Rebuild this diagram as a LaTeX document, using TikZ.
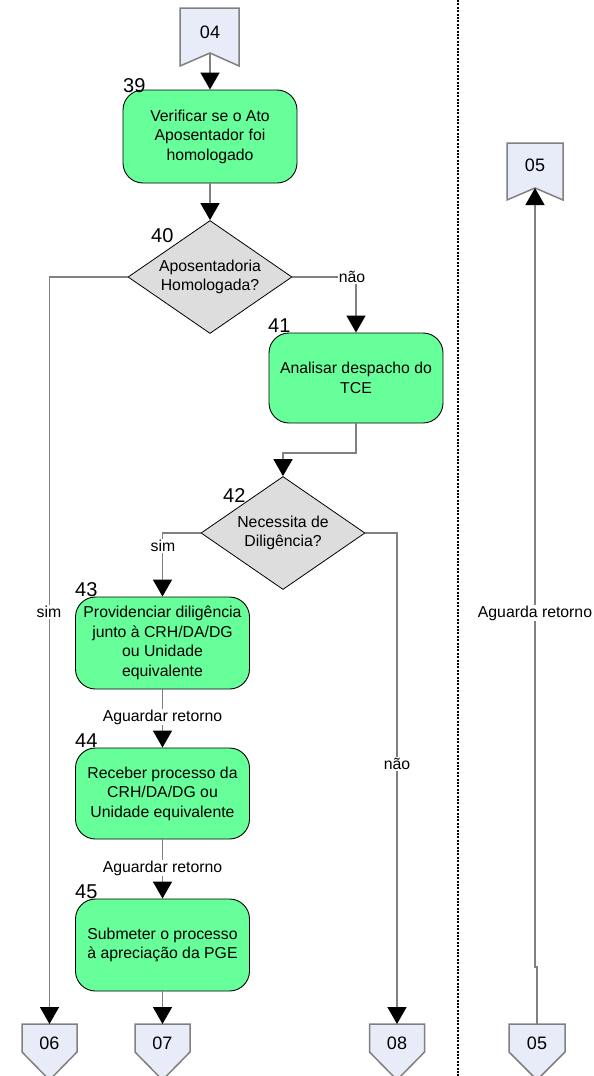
\documentclass[tikz,border=0pt]{standalone}
\usepackage{fontspec}
\setmainfont{Liberation Sans}
\usetikzlibrary{arrows.meta,shapes.geometric}
\definecolor{boxgreen}{RGB}{102,255,153}
\definecolor{decgray}{RGB}{221,221,221}
\definecolor{pagefill}{RGB}{231,236,248}
\definecolor{flowgray}{RGB}{128,128,128}

\begin{document}
\begin{tikzpicture}[x=1pt,y=-1pt,
  txt/.style={font=\fontsize{15.8}{19.5}\selectfont},
  task/.style={txt, draw=black, line width=0.9pt, fill=boxgreen,
    rounded corners=20pt, minimum width=174pt, align=center, inner sep=0pt},
  decision/.style={txt, diamond, shape aspect=1.45, draw=black, line width=0.8pt, fill=decgray,
    minimum width=164pt, minimum height=113pt, inner sep=0pt, align=center},
  stepnum/.style={font=\fontsize{20}{24}\selectfont, anchor=base west, inner sep=0pt},
  lbl/.style={txt, fill=white, inner sep=1pt},
  pagetxt/.style={font=\fontsize{18}{22}\selectfont, inner sep=0pt},
  pageshape/.style={fill=pagefill, draw=flowgray, line width=1.5pt},
  flow/.style={draw=flowgray, line width=1.6pt,
    -{Triangle[length=17pt,width=19pt,color=black]}},
  separator/.style={draw=black, line width=2pt, dash pattern=on 2pt off 1.4pt}
]
\useasboundingbox (0,0) rectangle (594,1076);
\clip (0,0) rectangle (594,1076);
\fill[white] (0,0) rectangle (594,1076);

% lane separator
\coordinate (septop) at (458,0);
\coordinate (sepbot) at (458,1076);
\draw[separator] (septop) -- (sepbot);

% off-page connectors (incoming, top)
\draw[pageshape] (180,8) -- (239,8) -- (239,66) -- (210,53) -- (180,66) -- cycle;
\node[pagetxt] (p04) at (210,32) {04};
\coordinate (p04n) at (210,53);

\draw[pageshape] (507,143) -- (563,143) -- (563,200) -- (535,188) -- (507,200) -- cycle;
\node[pagetxt] (p05a) at (535,165) {05};
\coordinate (p05an) at (535,188);

% off-page connectors (outgoing, bottom)
\draw[pageshape] (22,1024) -- (77,1024) -- (77,1052) -- (49.5,1080) -- (22,1052) -- cycle;
\node[pagetxt] (p06) at (49.5,1043) {06};
\coordinate (p06t) at (49.5,1024);

\draw[pageshape] (135,1024) -- (190,1024) -- (190,1052) -- (162.5,1080) -- (135,1052) -- cycle;
\node[pagetxt] (p07) at (162.5,1043) {07};
\coordinate (p07t) at (162.5,1024);

\draw[pageshape] (369.5,1024) -- (424.5,1024) -- (424.5,1052) -- (397,1080) -- (369.5,1052) -- cycle;
\node[pagetxt] (p08) at (397,1043) {08};
\coordinate (p08t) at (397,1024);

\draw[pageshape] (509,1024) -- (565,1024) -- (565,1052) -- (537,1080) -- (509,1052) -- cycle;
\node[pagetxt] (p05b) at (537,1043) {05};
\coordinate (p05bt) at (537,1024);

% process steps
\node[task, minimum height=93pt] (b39) at (210,136.5) {Verificar se o Ato\\Aposentador foi\\homologado};
\node[decision] (d40) at (210,277) {Aposentadoria\\Homologada?};
\node[task, minimum height=90pt] (b41) at (356,378) {Analisar despacho do\\TCE};
\node[decision] (d42) at (283,533) {Necessita de\\Diligência?};
\node[task, minimum height=92pt] (b43) at (162.5,643) {Providenciar diligência\\junto à CRH/DA/DG\\ou Unidade\\equivalente};
\node[task, minimum height=91pt] (b44) at (162.5,793.5) {Receber processo da\\CRH/DA/DG ou\\Unidade equivalente};
\node[task, minimum height=92pt] (b45) at (162.5,945) {Submeter o processo\\à apreciação da PGE};

% step numbers
\node[stepnum] (n39) at (123,92) {39};
\node[stepnum] (n40) at (151,242) {40};
\node[stepnum] (n41) at (268,332) {41};
\node[stepnum] (n42) at (223,502) {42};
\node[stepnum] (n43) at (75,596) {43};
\node[stepnum] (n44) at (75,747) {44};
\node[stepnum] (n45) at (75,898) {45};

% routing points
\coordinate (k40l) at (49.5,277);
\coordinate (k40r) at (356,277);
\coordinate (k41a) at (356,453);
\coordinate (k41b) at (283,453);
\coordinate (k42l) at (162.5,533);
\coordinate (k42r) at (397,533);
\coordinate (k05a) at (537,967);
\coordinate (k05b) at (535,967);

% connectors
\draw[flow] (p04n) -- (b39.north);
\draw[flow] (b39.south) -- (d40.north);
\draw[flow] (d40.west) -- (k40l) -- (p06t);
\draw[flow] (d40.east) -- (k40r) -- (b41.north);
\draw[flow] (b41.south) -- (k41a) -- (k41b) -- (d42.north);
\draw[flow] (d42.west) -- (k42l) -- (b43.north);
\draw[flow] (d42.east) -- (k42r) -- (p08t);
\draw[flow] (b43.south) -- (b44.north);
\draw[flow] (b44.south) -- (b45.north);
\draw[flow] (b45.south) -- (p07t);
\draw[flow] (p05bt) -- (k05a) -- (k05b) -- (p05an);

% connector labels
\node[lbl] (l40r) at (352,277) {não};
\node[lbl] (l40l) at (49,612) {sim};
\node[lbl] (l42l) at (163,546) {sim};
\node[lbl] (l42r) at (397,764) {não};
\node[lbl] (l43) at (162.5,717) {Aguardar retorno};
\node[lbl] (l44) at (162.5,868) {Aguardar retorno};
\node[lbl] (l05) at (535,613) {Aguarda retorno};
\end{tikzpicture}
\end{document}
